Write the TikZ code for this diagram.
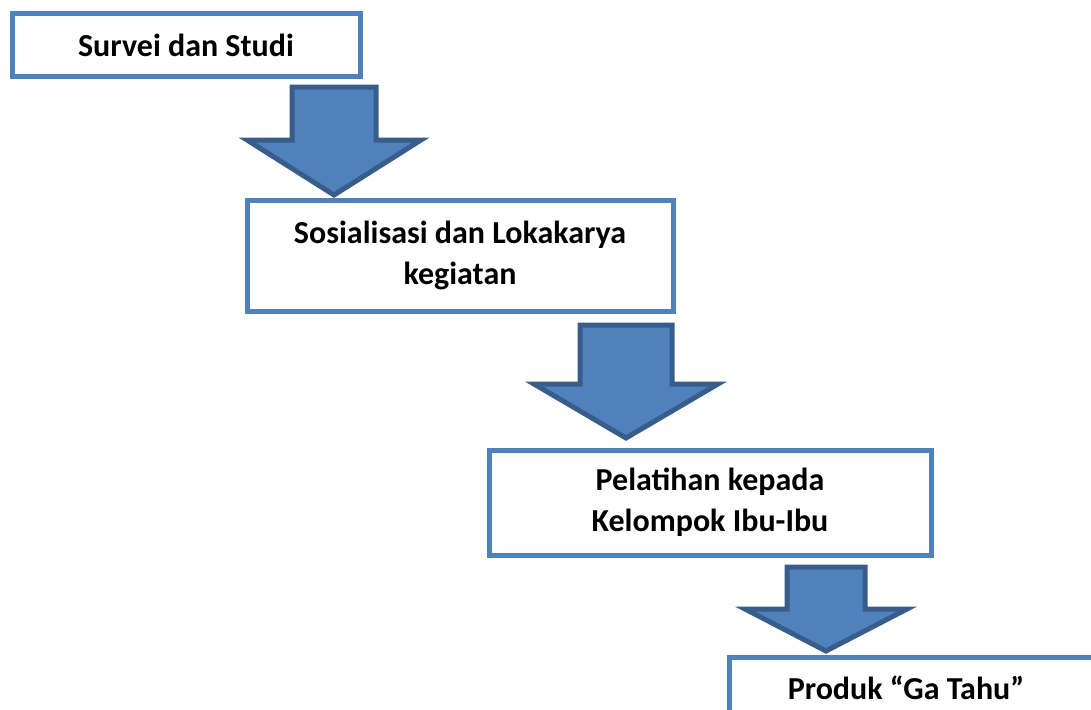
\documentclass[tikz,border=0pt]{standalone}
\usepackage{fontspec}
\setmainfont{Carlito}
\definecolor{boxblue}{HTML}{4F81BD}
\definecolor{arrowedge}{HTML}{385D8A}
\begin{document}
\begin{tikzpicture}[x=1pt,y=-1pt,
  steptext/.style={align=center,font=\fontsize{32}{41}\selectfont\bfseries,inner sep=0pt},
  stepbox/.style={steptext,draw=boxblue,line width=5pt,fill=white},
  blockarrow/.style={draw=arrowedge,fill=boxblue,line width=5pt,line join=miter,miter limit=10}]
\useasboundingbox (0,0) rectangle (1091,709);
\clip (0,0) rectangle (1091,709);
% arrows (drawn first, boxes overlap the tips)
\newcommand{\blockarr}[6]{% cx, top, shaft half, shoulder y, head half, tip y
  \draw[blockarrow] (#1-#3,#2) -- (#1+#3,#2) -- (#1+#3,#4) -- (#1+#5,#4)
    -- (#1,#6) -- (#1-#5,#4) -- (#1-#3,#4) -- cycle;}
\blockarr{334}{87}{42}{140}{87}{195}
\blockarr{626}{325}{46}{384}{92}{438}
\blockarr{826}{567}{39}{609}{81}{651}
% boxes
\node[stepbox,minimum width=348pt,minimum height=62pt] (s1) at (186,45) {Survei dan Studi};
\node[stepbox,minimum width=426pt,minimum height=111pt] (s2) at (460,255.5) {Sosialisasi dan Lokakarya\\kegiatan};
\node[stepbox,minimum width=442pt,minimum height=105pt] (s3) at (710,502.5) {Pelatihan kepada\\Kelompok Ibu-Ibu};
\node[stepbox,minimum width=460pt,minimum height=100pt,anchor=north west] (s4) at (727,655) {};
\node[steptext] (s4t) at (906,688) {Produk “Ga Tahu”};
\end{tikzpicture}
\end{document}
